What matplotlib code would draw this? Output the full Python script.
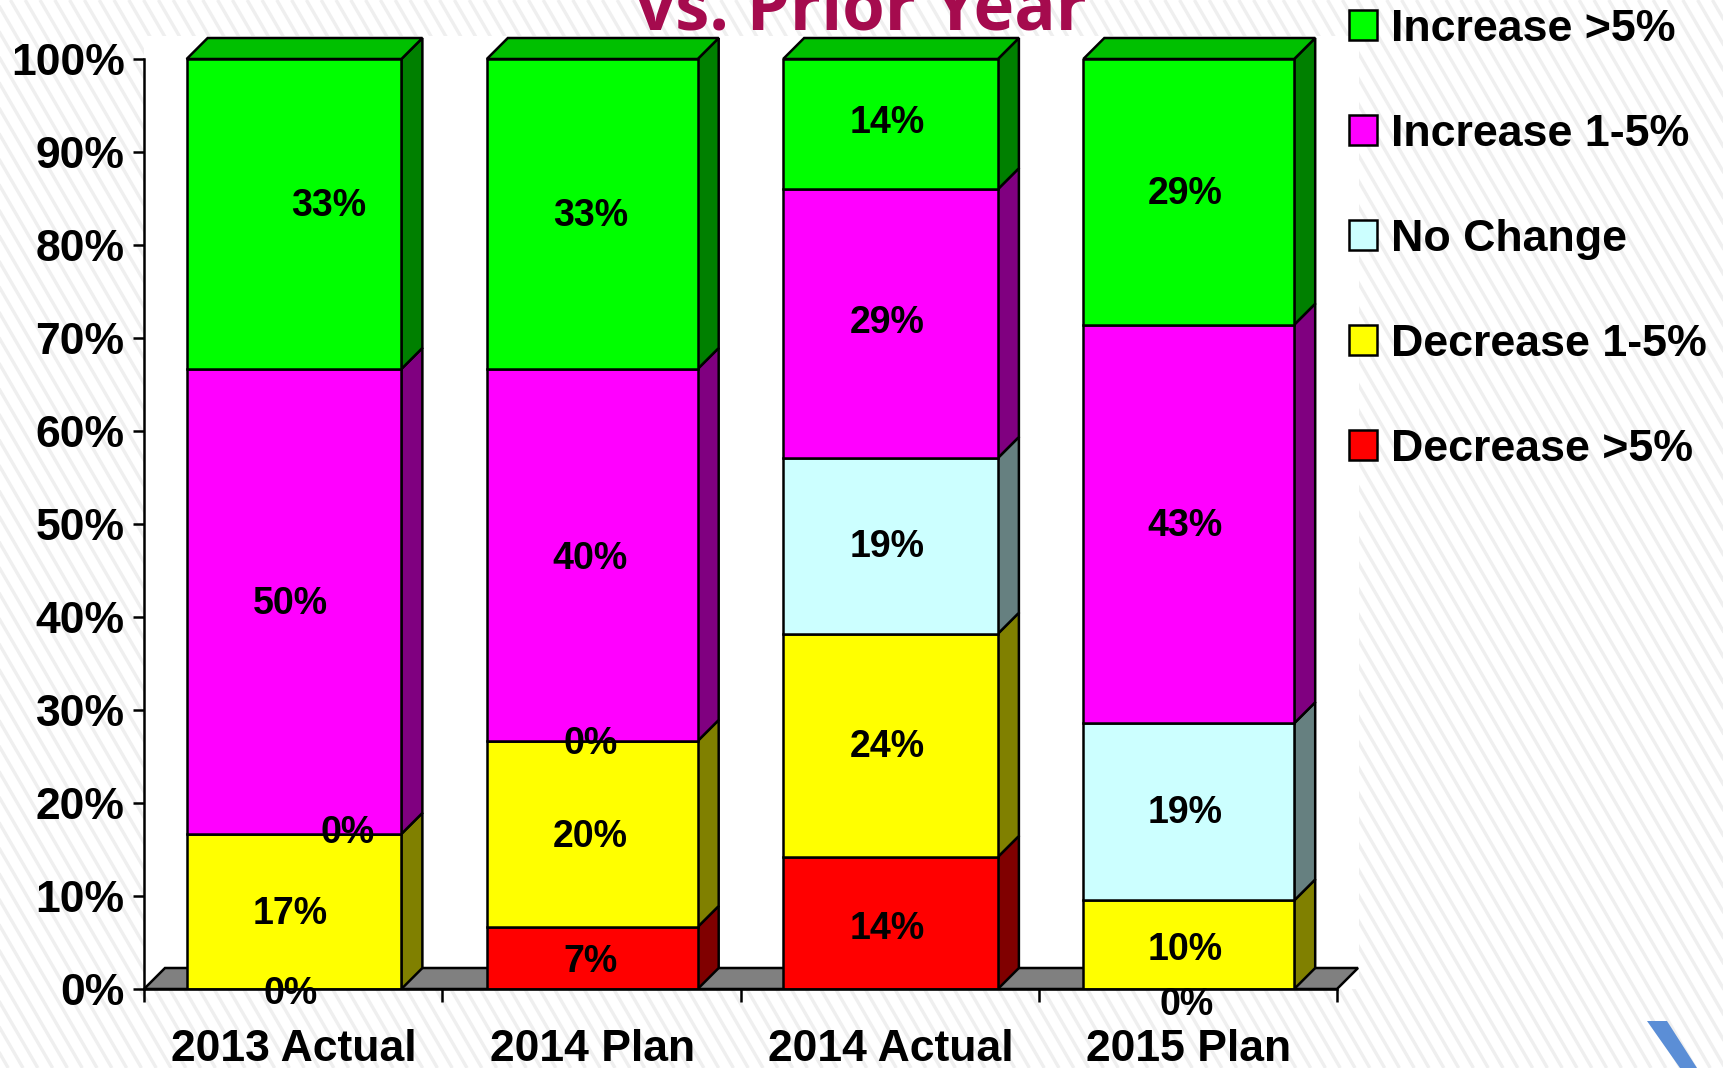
import matplotlib
matplotlib.use("Agg")
import matplotlib.pyplot as plt
from matplotlib.patches import Polygon, Rectangle, Patch
from matplotlib.collections import LineCollection
import numpy as np

categories = ["2013 Actual", "2014 Plan", "2014 Actual", "2015 Plan"]
series_names = ["Decrease >5%", "Decrease 1-5%", "No Change", "Increase 1-5%", "Increase >5%"]
decrease_big = [0.0, 6.67, 14.2, 0.0]
decrease_small = [16.67, 20.0, 24.0, 9.52]
no_change = [0.0, 0.0, 18.9, 19.05]
increase_small = [50.0, 40.0, 28.9, 42.86]
increase_big = [33.33, 33.33, 14.0, 28.57]
series_values = [decrease_big, decrease_small, no_change, increase_small, increase_big]
y_ticks = list(range(0, 101, 10))

face_colors = ["#FF0000", "#FFFF00", "#CCFFFF", "#FF00FF", "#00FF00"]
side_colors = ["#800000", "#808000", "#668080", "#800080", "#008000"]
top_color = "#00C000"

# label nudges in pixels, per series (bottom to top) and category, (right, up)
label_nudge = [
    [(-3, -5), (-2, -4), (-3, -6), (-2, -16)],
    [(-4, -3), (-2, -3), (-3, -2), (-4, -5)],
    [(54, 1), (-2, -3), (-3, -1), (-4, -1)],
    [(-4, -3), (-2, -4), (-3, 1), (-4, -2)],
    [(35, 8), (-2, -2), (-3, 1), (-4, -2)],
]

W, H = 1723, 1068
FONT = ["Liberation Sans", "DejaVu Sans"]
plt.rcParams["font.family"] = FONT
plt.rcParams["font.weight"] = "bold"

fig = plt.figure(figsize=(W / 100, H / 100), dpi=100, facecolor="white")

# background: stripes, white chart panel, title and corner chevron
bg = fig.add_axes([0, 0, 1, 1], zorder=0)
bg.set_xlim(0, W)
bg.set_ylim(H, 0)
bg.axis("off")
stripe_offsets = np.arange(-700, W + 20, 14.8)
stripes = [[(o, 0), (o + 0.58 * H, H)] for o in stripe_offsets]
bg.add_collection(LineCollection(stripes, colors="#EFEFEF", linewidths=2.4, zorder=1))
bg.add_patch(Rectangle((144, 36), 1359 - 144, 989 - 36, facecolor="white", edgecolor="none", zorder=2))
bg.add_patch(Polygon([(1647, 1021), (1667, 1021), (1697, 1068), (1680, 1068)],
                     facecolor="#5B8ED6", edgecolor="none", zorder=3))
bg.text(862, 29.5, "vs. Prior Year", color="#A50B4E", fontsize=49.6, fontweight="bold",
        family="Open Sans", ha="center", va="baseline", zorder=4)

# main chart axes
ax = fig.add_axes([144 / W, 1 - 989 / H, (1337 - 144) / W, (989 - 59) / H], zorder=2)
ax.patch.set_alpha(0)
ax.set_xlim(0, len(categories))
ax.set_ylim(0, 100)
px_x = (1337 - 144) / len(categories)
px_y = (989 - 59) / 100
dx, dy = 21 / px_x, 21 / px_y
x = np.arange(len(categories)) + 0.503
bar_w = np.array([0.72, 0.707, 0.72, 0.707])
lw = 1.8

# floor
ax.add_patch(Polygon([(0, 0), (dx, dy), (4 + dx, dy), (4, 0)], facecolor="#808080",
                     edgecolor="black", lw=lw, clip_on=False, zorder=1))

bottom = np.zeros(len(categories))
centres = []
for vals, fc, sc in zip(series_values, face_colors, side_colors):
    vals = np.array(vals)
    ax.bar(x, vals, width=bar_w, bottom=bottom, color=fc, edgecolor="black", linewidth=lw, zorder=3)
    for xi, w, b, v in zip(x, bar_w, bottom, vals):
        if v > 0:
            r = xi + w / 2
            ax.add_patch(Polygon([(r, b), (r + dx, b + dy), (r + dx, b + v + dy), (r, b + v)],
                                 facecolor=sc, edgecolor="black", lw=lw, clip_on=False, zorder=2))
    centres.append(bottom + vals / 2)
    bottom = bottom + vals

for xi, w in zip(x, bar_w):
    l = xi - w / 2
    r = xi + w / 2
    ax.add_patch(Polygon([(l, 100), (l + dx, 100 + dy), (r + dx, 100 + dy), (r, 100)],
                         facecolor=top_color, edgecolor="black", lw=lw, clip_on=False, zorder=2))

# data labels
for s, vals in enumerate(series_values):
    for c, v in enumerate(vals):
        ax.annotate(f"{v:.0f}%", xy=(x[c], centres[s][c]), xytext=label_nudge[s][c],
                    textcoords="offset pixels", ha="center", va="center",
                    fontsize=27, fontweight="bold", color="black", zorder=6, annotation_clip=False)

# axes furniture
for sp in ["top", "right"]:
    ax.spines[sp].set_visible(False)
for sp in ["left", "bottom"]:
    ax.spines[sp].set_linewidth(lw)
    ax.spines[sp].set_zorder(5)
ax.set_yticks(y_ticks)
ax.set_yticklabels([f"{t}%" for t in y_ticks], fontsize=32, fontweight="bold")
ax.set_xticks(np.arange(len(categories) + 1))
ax.set_xticklabels([])
ax.set_xticks(x, minor=True)
ax.set_xticklabels(categories, minor=True, fontsize=32, fontweight="bold")
ax.tick_params(axis="x", which="major", length=9, width=lw)
ax.tick_params(axis="x", which="minor", length=0, pad=29)
ax.tick_params(axis="y", length=8, width=lw, pad=6)

# legend
handles = [Patch(facecolor=c, edgecolor="black", linewidth=lw) for c in face_colors[::-1]]
ax.legend(handles, series_names[::-1], loc="upper left",
          bbox_to_anchor=(1349 / W, 1 - 9 / H), bbox_transform=fig.transFigure,
          frameon=False, fontsize=32.2, handlelength=0.63, handleheight=0.65,
          handletextpad=0.3, labelspacing=1.43, borderpad=0, borderaxespad=0)

fig.savefig("out.png", dpi=100, facecolor="white")
